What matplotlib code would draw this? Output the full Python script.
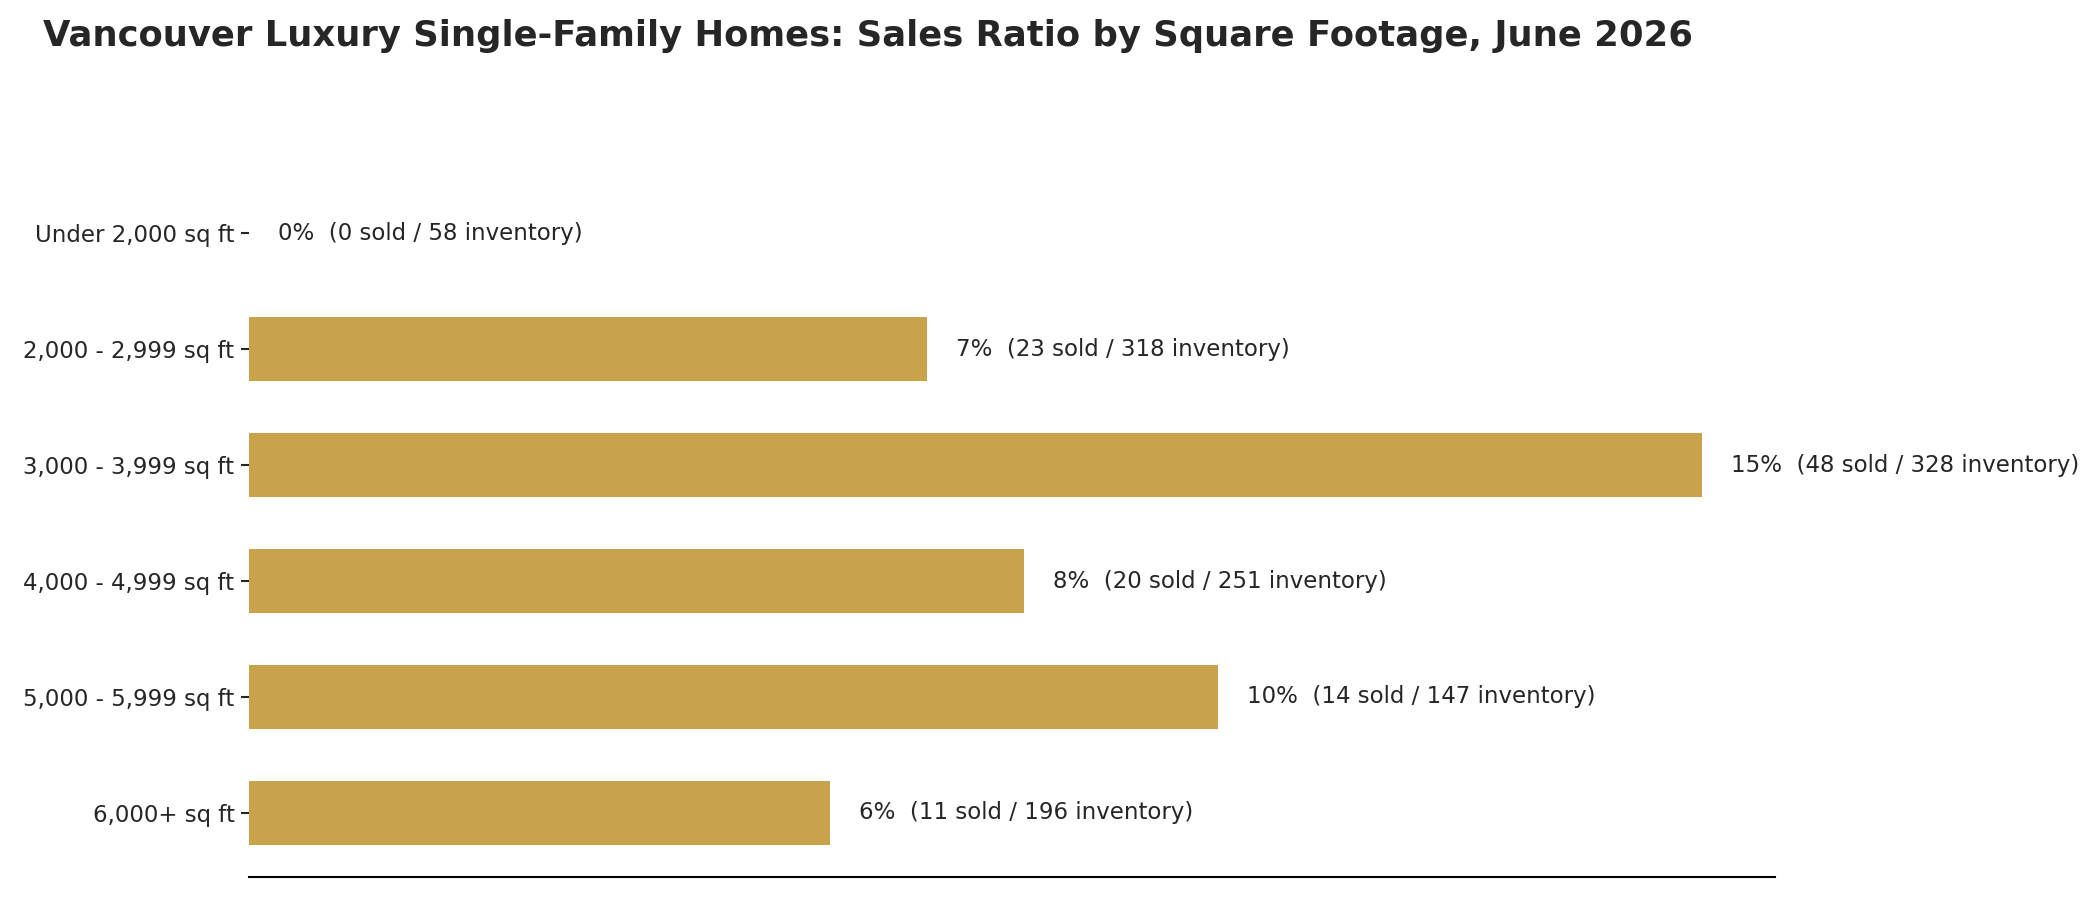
import numpy as np
import matplotlib.pyplot as plt

categories = ["Under 2,000 sq ft", "2,000 - 2,999 sq ft", "3,000 - 3,999 sq ft",
              "4,000 - 4,999 sq ft", "5,000 - 5,999 sq ft", "6,000+ sq ft"]
sold = [0, 23, 48, 20, 14, 11]
inventory = [58, 318, 328, 251, 147, 196]
ratio_pct = [0, 7, 15, 8, 10, 6]

bar_color = '#C9A34C'
text_color = '#262626'

fig = plt.figure(figsize=(14, 6), dpi=150)
ax = fig.add_axes([0.1186, 0.0256, 0.7264, 0.7864])

y = np.arange(len(categories))
ax.barh(y, ratio_pct, height=0.55, color=bar_color)
ax.set_xlim(0, max(ratio_pct) * 1.05)
ax.invert_yaxis()

for yi, r, s, n in zip(y, ratio_pct, sold, inventory):
    ax.text(r + 0.3, yi, f"{r}%  ({s} sold / {n} inventory)",
            va='center', ha='left', fontsize=11, color=text_color)

ax.set_yticks(y)
ax.set_yticklabels(categories, fontsize=11, color=text_color)
ax.set_xticks([])
ax.tick_params(axis='y', length=4, width=1, color=text_color, pad=3)
for side in ['top', 'right', 'left']:
    ax.spines[side].set_visible(False)
ax.spines['bottom'].set_color('black')
ax.spines['bottom'].set_linewidth(1)

fig.text(0.0205, 0.96, "Vancouver Luxury Single-Family Homes: Sales Ratio by Square Footage, June 2026",
         ha='left', va='center', fontsize=17, fontweight='bold', color=text_color)

fig.savefig('out.png', dpi=150)
